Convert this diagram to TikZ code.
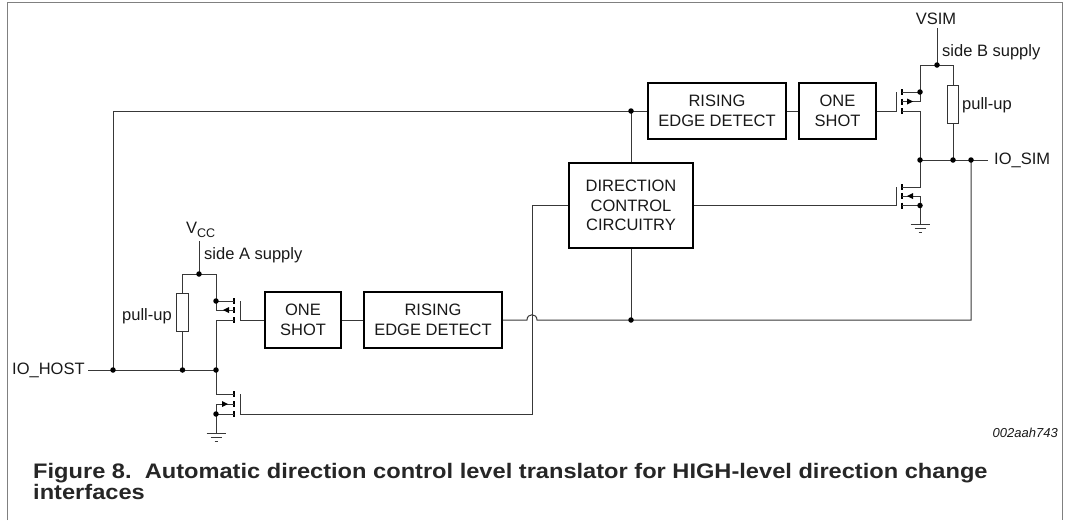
\documentclass[tikz,border=0pt]{standalone}
\usepackage{fontspec}
\setmainfont{Liberation Sans}
\usepackage{graphicx}
\begin{document}
\begin{tikzpicture}[x=1pt,y=-1pt,
  wire/.style={draw=black!78, line width=1pt},
  blk/.style={draw=black, line width=1.8pt, fill=white, align=center, text=black!90, font=\fontsize{16.5}{19.8}\selectfont, inner sep=0pt},
  lbl/.style={font=\fontsize{16.5}{19.8}\selectfont, text=black!90, inner sep=0pt},
  bar/.style={draw=black, line width=2pt},
  dot/.style={circle, fill=black, inner sep=0pt, minimum size=5.5pt},
  res/.style={draw=black!80, line width=1pt, fill=white, minimum width=11.5pt, minimum height=38pt, inner sep=0pt},
  frame/.style={draw=black!50, line width=1pt},
  gnd/.style={draw=black!78, line width=1pt},
  figcap/.style={anchor=base west, inner sep=0pt, text=black!85, font=\fontsize{21}{24}\selectfont\bfseries}]
\useasboundingbox (0,0) rectangle (1069,520);
\draw[frame] (7,520)--(7,2)--(1062,2)--(1062,520);

% blocks
\node[blk, minimum width=138pt, minimum height=56pt] (red1) at (717,111) {RISING\\EDGE DETECT};
\node[blk, minimum width=77pt, minimum height=56pt] (os1) at (837.5,111) {ONE\\SHOT};
\node[blk, minimum width=124pt, minimum height=85pt] (dcc) at (631,205.5) {DIRECTION\\CONTROL\\CIRCUITRY};
\node[blk, minimum width=76pt, minimum height=56pt] (os2) at (303,320) {ONE\\SHOT};
\node[blk, minimum width=138pt, minimum height=56pt] (red2) at (433,320) {RISING\\EDGE DETECT};
\node[res] (r1) at (953,104) {};
\node[res] (r2) at (182.5,312) {};

% coordinates
\coordinate (hostL) at (88,370);
\coordinate (hostJ) at (113,370);
\coordinate (hostT) at (113,111);
\coordinate (jTop) at (631,111);
\coordinate (jBot) at (631,320);
\coordinate (rJ) at (182.5,370);
\coordinate (aJ) at (216,370);
\coordinate (aSupL) at (182.5,274);
\coordinate (aSupJ) at (199,274);
\coordinate (aSupR) at (216,274);
\coordinate (vccB) at (199,241);
\coordinate (g1t) at (896,92);
\coordinate (g1b) at (896,111);
\coordinate (g2t) at (896,187);
\coordinate (g2b) at (896,205.5);
\coordinate (g3t) at (240,301);
\coordinate (g3b) at (240,320);
\coordinate (g4t) at (240,394);
\coordinate (g4b) at (240,414);
\coordinate (hopT) at (532,205.5);
\coordinate (hopB) at (532,414);
\coordinate (hopL) at (527,320);
\coordinate (hopR) at (537,320);
\coordinate (simJ) at (971,160);
\coordinate (simB) at (971,320);
\coordinate (simR) at (988,160);
\coordinate (bJ) at (920,160);
\coordinate (rbJ) at (953,160);
\coordinate (vsimB) at (937,28);
\coordinate (vsimJ) at (937,65);
\coordinate (bSupL) at (920,65);
\coordinate (bSupR) at (953,65);

% main wiring
\draw[wire] (hostL) -- (aJ);
\draw[wire] (hostJ) -- (hostT) -- (red1.west);
\draw[wire] (red1.east) -- (os1.west);
\draw[wire] (os1.east) -- (g1b) -- (g1t);
\draw[wire] (jTop) -- (dcc.north);
\draw[wire] (dcc.south) -- (jBot);
\draw[wire] (dcc.east) -- (g2b) -- (g2t);
\draw[wire] (dcc.west) -- (hopT) -- (hopB) -- (g4b) -- (g4t);
\draw[wire] (os2.west) -- (g3b) -- (g3t);
\draw[wire] (os2.east) -- (red2.west);
\draw[wire] (red2.east) -- (hopL) .. controls (527,313) and (537,313) .. (hopR) -- (jBot) -- (simB) -- (simJ);
\draw[wire] (bJ) -- (simR);

% side B supply and pull-up
\draw[wire] (vsimB) -- (vsimJ);
\draw[wire] (bSupL) -- (bSupR) -- (r1.north);
\draw[wire] (r1.south) -- (rbJ);

% side A supply and pull-up
\draw[wire] (vccB) -- (aSupJ);
\draw[wire] (aSupR) -- (aSupL) -- (r2.north);
\draw[wire] (r2.south) -- (rJ);

% transistor top right (PMOS)
\draw[bar] (902,89)--(902,95) (902,98.5)--(902,104.5) (902,108)--(902,114);
\draw[wire] (902,92)--(920,92);
\draw[wire] (bSupL)--(920,101.5)--(902,101.5);
\fill[black] (907,98.5)--(907,104.5)--(913,101.5)--cycle;
\draw[wire] (902,111)--(920,111)--(bJ);

% transistor bottom right (NMOS)
\draw[bar] (902,184)--(902,190) (902,193)--(902,199) (902,202.5)--(902,208.5);
\draw[wire] (bJ)--(920,187)--(902,187);
\draw[wire] (902,196)--(920,196)--(920,224);
\draw[wire] (902,205.5)--(920,205.5);
\fill[black] (913,193)--(913,199)--(907,196)--cycle;
\draw[gnd] (910.5,224)--(929.5,224) (914.5,228)--(925.5,228) (918.5,232)--(921.5,232);

% transistor top left (PMOS)
\draw[bar] (234,298)--(234,304) (234,307)--(234,313) (234,317)--(234,323);
\draw[wire] (aSupR)--(216,310)--(234,310);
\draw[wire] (216,301)--(234,301);
\draw[wire] (234,320)--(216,320)--(aJ);
\fill[black] (229,307)--(229,313)--(223,310)--cycle;

% transistor bottom left (NMOS)
\draw[bar] (234,391)--(234,397) (234,401)--(234,407) (234,411)--(234,417);
\draw[wire] (aJ)--(216,394)--(234,394);
\draw[wire] (234,404)--(216,404)--(216,433);
\draw[wire] (216,414)--(234,414);
\fill[black] (222,401)--(222,407)--(228,404)--cycle;
\draw[gnd] (206.5,433)--(225.5,433) (210.5,437)--(221.5,437) (214.5,441)--(217.5,441);

% junction dots
\foreach \p in {(hostJ),(rJ),(aJ),(aSupJ),(216,301),(216,414),(jTop),(jBot),(simJ),(bJ),(rbJ),(vsimJ),(920,92),(920,205.5)}
  \node[dot] at \p {};

% labels
\node[lbl, anchor=west] (lhost) at (12,370) {IO\_HOST};
\node[lbl, anchor=west] (lsim) at (994,160) {IO\_SIM};
\node[lbl] (lvsim) at (936,19) {VSIM};
\node[lbl, anchor=west] (lsideb) at (942,52) {side B supply};
\node[lbl, anchor=west] (lpub) at (962,105) {pull-up};
\node[lbl, anchor=base west] (lvcc) at (186,233) {V\raisebox{-4pt}{\fontsize{12.5}{12.5}\selectfont CC}};
\node[lbl, anchor=west] (lsidea) at (204,255) {side A supply};
\node[lbl, anchor=west] (lpua) at (122,316) {pull-up};
\node[anchor=east, inner sep=0pt, text=black!90, font=\fontsize{13}{13}\selectfont\itshape] (code) at (1058,433) {002aah743};
\node[figcap] (cap1) at (33,478) {\scalebox{1.125}[1]{Figure 8.\ \ Automatic direction control level translator for HIGH-level direction change}};
\node[figcap] (cap2) at (33,499) {\scalebox{1.125}[1]{interfaces}};
\end{tikzpicture}
\end{document}
